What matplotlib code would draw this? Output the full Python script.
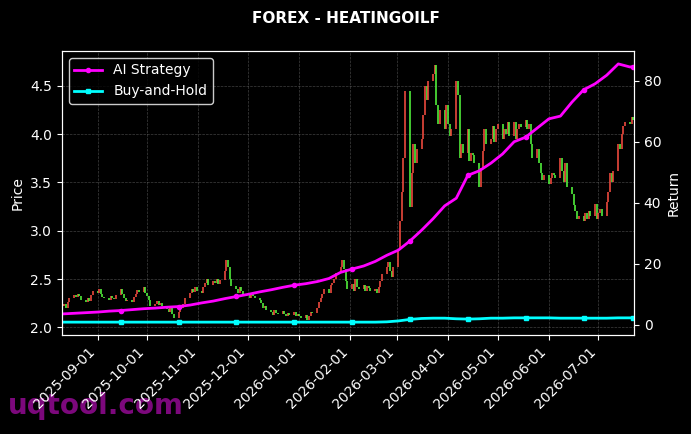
import matplotlib
matplotlib.use("Agg")
import matplotlib.pyplot as plt
import matplotlib.dates as mdates
import numpy as np
import pandas as pd

# ---- data ----
start_date = "2025-08-11"
closes = [
    # Aug
    2.22, 2.24, 2.20, 2.26, 2.30, 2.33, 2.31, 2.35, 2.32, 2.28, 2.26, 2.30, 2.27, 2.33, 2.38,
    # Sep
    2.36, 2.40, 2.34, 2.31, 2.30, 2.28, 2.32, 2.30, 2.29, 2.33,
    2.40, 2.34, 2.30, 2.27, 2.28, 2.26, 2.31, 2.35, 2.39, 2.37, 2.42, 2.36,
    # Oct
    2.32, 2.28, 2.22, 2.24, 2.27, 2.23, 2.25, 2.22, 2.19, 2.16, 2.21, 2.14, 2.10,
    2.16, 2.22, 2.20, 2.24, 2.30, 2.36, 2.40, 2.37, 2.42, 2.38,
    # Nov
    2.36, 2.42, 2.46, 2.50, 2.44, 2.48, 2.46, 2.50, 2.45, 2.49,
    2.58, 2.70, 2.62, 2.50, 2.43, 2.40, 2.36, 2.42, 2.38, 2.33,
    # Dec
    2.34, 2.30, 2.36, 2.32, 2.30, 2.28, 2.25, 2.20, 2.22, 2.18,
    2.16, 2.13, 2.18, 2.15, 2.14, 2.17, 2.14, 2.12, 2.15, 2.13, 2.16, 2.12, 2.14,
    # Jan
    2.12, 2.10, 2.13, 2.08, 2.12, 2.16, 2.15, 2.20, 2.26, 2.30, 2.34, 2.40,
    2.36, 2.44, 2.46, 2.50, 2.56, 2.62, 2.70, 2.60, 2.48, 2.40,
    # Feb
    2.45, 2.38, 2.50, 2.42, 2.40, 2.44, 2.38, 2.43, 2.41, 2.38,
    2.40, 2.36, 2.42, 2.48, 2.55, 2.62, 2.68, 2.58, 2.52, 2.62,
    # Mar
    2.80, 3.10, 3.40, 3.75, 4.45, 3.25, 3.60, 3.90, 3.70, 3.85,
    3.95, 4.20, 4.50, 4.35, 4.55, 4.62, 4.72, 4.30, 4.10, 4.25, 4.05, 4.30,
    # Apr
    4.10, 3.98, 4.05, 4.55, 4.40, 3.75, 3.90, 3.80, 4.05, 3.72, 3.80, 3.78, 3.70,
    3.45, 3.65, 3.82, 4.05, 3.90, 3.95, 4.08, 3.92, 4.05,
    # May
    4.10, 3.95, 4.05, 4.00, 4.12, 3.98, 4.12, 3.95, 4.05, 4.10, 4.07,
    4.15, 4.05, 4.10, 3.90, 3.75, 3.85, 3.70, 3.60, 3.52, 3.58,
    # Jun
    3.48, 3.55, 3.60, 3.58, 3.55, 3.75, 3.62, 3.50, 3.70, 3.45,
    3.38, 3.27, 3.20, 3.12, 3.15, 3.10, 3.18, 3.12, 3.20, 3.15, 3.28, 3.12,
    # Jul
    3.18, 3.22, 3.15, 3.30, 3.40, 3.60, 3.50, 3.62,
    3.90, 3.85, 4.00, 4.08, 4.12, 4.10, 4.18, 4.15,
]
first_open = 2.24

ai_return = [
    3.6, 3.8, 4.0, 4.2, 4.5, 4.7, 5.0, 5.3, 5.5, 5.8,
    6.0, 6.5, 7.2, 7.8, 8.6, 9.3, 10.0, 10.8, 11.5, 12.3,
    13.0, 13.5, 14.2, 15.2, 17.2, 18.3, 19.3, 20.8, 22.8, 24.5,
    27.5, 31.0, 34.8, 39.0, 41.5, 49.0, 50.5, 53.0, 56.0, 60.0,
    61.5, 64.5, 67.5, 68.4, 73.0, 77.0, 79.0, 81.8, 85.5, 84.5, 84.6,
]
bh_return = [
    0.9, 0.9, 0.9, 0.9, 0.9, 0.9, 0.9, 0.9, 0.9, 0.9,
    0.9, 0.9, 0.9, 0.9, 0.9, 0.9, 0.9, 0.9, 0.9, 0.9,
    0.9, 0.9, 0.9, 0.9, 0.9, 0.9, 0.9, 0.9, 1.0, 1.3,
    1.8, 2.1, 2.2, 2.2, 2.0, 1.9, 2.0, 2.2, 2.2, 2.3,
    2.3, 2.3, 2.3, 2.2, 2.2, 2.2, 2.2, 2.2, 2.3, 2.3, 2.3,
]

dates = pd.bdate_range(start_date, periods=len(closes))
line_dates = list(pd.date_range(start_date, periods=len(ai_return) - 1, freq="7D")) + [dates[-1]]

opens = [first_open] + closes[:-1]

# ---- plot ----
fig = plt.figure(figsize=(6.91, 4.34), dpi=100, facecolor="black")
fig.text(0.012, 0.045, "uqtool.com", color="#8b0a8b", fontsize=20, fontweight="bold",
         alpha=0.9, zorder=-5)
ax = fig.add_axes([0.0897, 0.228, 0.8278, 0.6545])
ax.set_facecolor("black")

up_color = "#f04a3e"
down_color = "#52f23c"
x = mdates.date2num(dates)
o = np.array(opens)
c = np.array(closes)
colors = [up_color if cc >= oo else down_color for oo, cc in zip(o, c)]
ax.vlines(x, np.minimum(o, c), np.maximum(o, c), colors=colors, linewidth=1.3,
          alpha=0.9, zorder=2)

ax.set_ylim(1.92, 4.86)
ax.set_xlim(mdates.date2num(pd.Timestamp("2025-08-10 12:00")),
            mdates.date2num(pd.Timestamp("2026-07-22 12:00")))
ax.set_ylabel("Price", color="white")
ax.grid(True, color="gray", linestyle="--", linewidth=0.5, alpha=0.5)

ax2 = ax.twinx()
l1, = ax2.plot(line_dates, ai_return, color="#ff00ff", linewidth=2, marker="o",
               markersize=3, markevery=(5, 5), label="AI Strategy")
l2, = ax2.plot(line_dates, bh_return, color="#00ffff", linewidth=2, marker="s",
               markersize=3.5, markevery=(5, 5), label="Buy-and-Hold")
ax2.set_ylabel("Return", color="white")
ax2.set_yticks([0, 20, 40, 60, 80])

ax.xaxis.set_major_locator(mdates.MonthLocator(bymonthday=1))
ax.xaxis.set_major_formatter(mdates.DateFormatter("%Y-%m-%d"))
for lab in ax.get_xticklabels():
    lab.set_rotation(45)
    lab.set_ha("right")

for a in (ax, ax2):
    a.tick_params(colors="white", labelsize=10)
    for s in a.spines.values():
        s.set_color("white")

leg = ax2.legend(handles=[l1, l2], loc="upper left", facecolor="black",
                 edgecolor="white", labelcolor="white", fontsize=10)

fig.suptitle("FOREX - HEATINGOILF", color="white", fontweight="bold", fontsize=11, y=0.975)

fig.savefig("out.png", dpi=100, facecolor="black")
